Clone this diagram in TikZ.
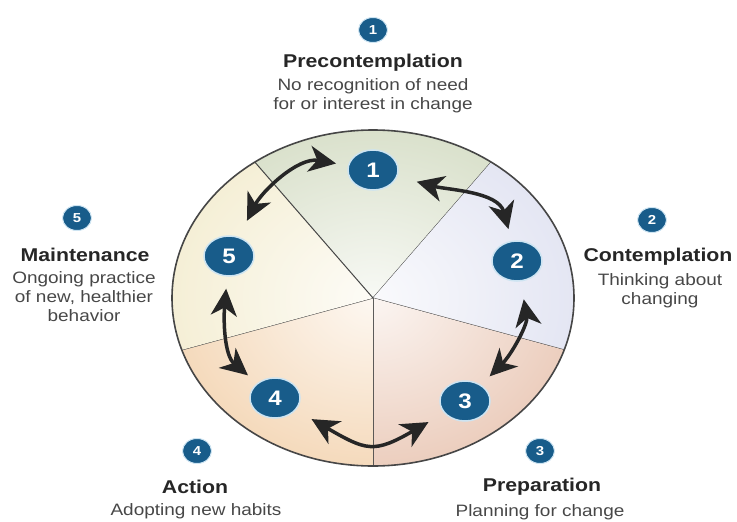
\documentclass[tikz,border=0pt]{standalone}
\usepackage{fontspec}
\newfontfamily\labelfont[FakeStretch=1.15]{Liberation Sans}
\usetikzlibrary{arrows.meta,shapes.geometric}

\definecolor{badgeblue}{RGB}{24,92,138}
\definecolor{badgeglow}{RGB}{205,228,242}
\definecolor{rimline}{RGB}{70,70,70}
\definecolor{arrowgray}{RGB}{38,38,38}
\definecolor{sectone}{RGB}{218,225,204}
\definecolor{secttwo}{RGB}{228,230,243}
\definecolor{sectthree}{RGB}{236,206,190}
\definecolor{sectfour}{RGB}{245,218,188}
\definecolor{sectfive}{RGB}{245,239,214}

\tikzset{
  bignum/.style={ellipse, fill=badgeblue, draw=badgeglow, line width=1.5pt,
    minimum width=50pt, minimum height=40pt, inner sep=0pt, text=white,
    font=\labelfont\fontsize{21}{21}\selectfont\bfseries},
  smallnum/.style={ellipse, fill=badgeblue, draw=badgeglow, line width=1pt,
    minimum width=29pt, minimum height=25pt, inner sep=0pt, text=white,
    font=\labelfont\fontsize{13}{13}\selectfont\bfseries},
  stagename/.style={inner sep=0pt, text=black!85,
    font=\labelfont\fontsize{18.5}{20}\selectfont\bfseries},
  stagetext/.style={inner sep=0pt, align=center, text=black!72,
    font=\labelfont\fontsize{16.5}{19}\selectfont},
  stagearrow/.style={draw=arrowgray, line width=3.5pt,
    {Stealth[length=27pt,width=26pt,inset=8pt]}-{Stealth[length=27pt,width=26pt,inset=8pt]}}
}

\begin{document}
\begin{tikzpicture}[x=1pt,y=1pt]
    \useasboundingbox (0,0) rectangle (737,-522);
    \coordinate (c) at (373,-298);

    % Shaded wedges of the wheel
    \foreach \a/\col in {54/sectone,-18/secttwo,-90/sectthree,-162/sectfour,126/sectfive}{
        \begin{scope}
            \clip (c) -- ++(\a:201 and 168)
                arc[start angle=\a, end angle=\a+72, x radius=201, y radius=168] -- cycle;
            \shade[inner color=\col!20!white, outer color=\col] (c) ellipse [x radius=201, y radius=168];
        \end{scope}
        \draw[rimline, line width=1pt] (c) -- ++(\a:201 and 168);
    }
    \draw[rimline, line width=1.6pt] (c) ellipse [x radius=201, y radius=168];

    % Numbered stages inside the wheel
    \node[bignum] (b1) at (373,-170) {1};
    \node[bignum] (b2) at (517,-261) {2};
    \node[bignum] (b3) at (465,-401) {3};
    \node[bignum] (b4) at (275,-398) {4};
    \node[bignum] (b5) at (229,-256) {5};

    % Two-way arrows between stages
    \draw[stagearrow, shorten <=20pt, shorten >=12pt] (b1) to[out=-15, in=105] (b2);
    \draw[stagearrow, shorten <=18pt, shorten >=12pt] (b2) to[out=-80, in=45] (b3);
    \draw[stagearrow, shorten <=18pt, shorten >=18pt, looseness=1.4] (b3) to[out=-150, in=-30] (b4);
    \draw[stagearrow, shorten <=12pt, shorten >=12pt] (b4) to[out=140, in=-95] (b5);
    \draw[stagearrow, shorten <=18pt, shorten >=12pt] (b5) to[out=63, in=170] (b1);

    % Stage labels around the wheel
    \node[smallnum] (n1) at (373,-30) {1};
    \node[stagename] (t1) at (373,-63) {Precontemplation};
    \node[stagetext] (d1) at (373,-96) {No recognition of need\\for or interest in change};

    \node[smallnum] (n2) at (652,-220) {2};
    \node[stagename] (t2) at (658,-257) {Contemplation};
    \node[stagetext] (d2) at (660,-291) {Thinking about\\changing};

    \node[smallnum] (n3) at (540,-451) {3};
    \node[stagename] (t3) at (542,-487) {Preparation};
    \node[stagetext] (d3) at (540,-512) {Planning for change};

    \node[smallnum] (n4) at (197,-451) {4};
    \node[stagename] (t4) at (195,-487) {Action};
    \node[stagetext] (d4) at (196,-511) {Adopting new habits};

    \node[smallnum] (n5) at (77,-218) {5};
    \node[stagename] (t5) at (85,-255) {Maintenance};
    \node[stagetext] (d5) at (84,-297) {Ongoing practice\\of new, healthier\\behavior};
\end{tikzpicture}
\end{document}
